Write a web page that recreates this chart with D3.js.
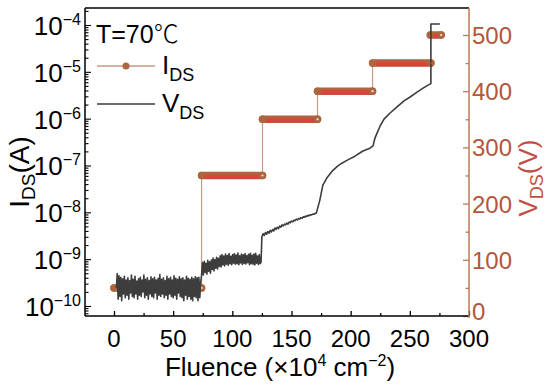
<!DOCTYPE html>
<html><head><meta charset="utf-8">
<script src="https://cdn.jsdelivr.net/npm/d3@7"></script>
<style>
body{margin:0;background:#fff}
svg{display:block;font-family:"Liberation Sans",Arial,sans-serif}
</style>
</head><body>
<svg id="c" width="550" height="389"></svg>
<script>
// ---------------- data ----------------
const xTicks = [0, 50, 100, 150, 200, 250, 300];
const xMinorTicks = [25, 75, 125, 175, 225, 275];
const leftTickExps = [-10, -9, -8, -7, -6, -5, -4];
const rightTicks = [0, 100, 200, 300, 400, 500];
const rightMinorTicks = [50, 150, 250, 350, 450];

// V_DS steps (red, right axis)
const stepStart = [0, 74, 125.5, 172, 218.5, 267.3];
const stepEnd   = [74, 125.5, 172, 218.5, 267.8, 276.5];
const stepVolt  = [50, 250, 350, 400, 450, 500];

// current trace (black, left axis), noisy region A: sampled every 0.75 from 2, units 1e-10 A
const noiseAStart = 2, noiseAStep = 0.75;
const noiseAValues = [2.4,4.9,1.4,4.4,1.6,4.1,1.3,3.8,1.8,4.3,
  1.5,3.6,1.7,4.0,1.4,3.5,1.9,4.6,1.6,3.7,
  1.5,4.3,1.8,3.4,1.4,3.8,1.7,4.1,1.6,3.6,
  2.0,4.6,1.5,3.7,1.7,4.0,1.4,3.5,1.8,4.2,
  1.6,3.8,1.5,4.1,1.9,3.6,1.4,3.9,1.7,4.7,
  1.6,3.7,1.8,4.0,1.5,3.5,1.7,4.3,1.4,3.8,
  1.8,4.1,1.6,3.6,1.5,4.4,1.7,3.9,1.4,3.7,
  1.9,4.2,1.6,3.8,1.5,4.0,1.3,3.6,1.7,4.3,
  1.4,3.9,1.6,3.7,1.4,4.1,1.3,3.8,1.6,4.2,
  1.5,4.0,1.3,4.1,1.5,3.2];
// noisy region B: sampled every 0.75 from 74, units 1e-10 A
const noiseBStart = 74, noiseBStep = 0.75;
const noiseBValues = [4.5,8.5,4.6,9.0,5.2,8.2,4.8,9.4,5.5,8.8,
  5.0,9.6,6.0,10.5,5.6,9.8,6.4,11.0,6.2,10.4,
  7.0,11.8,6.8,12.5,7.5,11.6,7.2,12.8,7.8,12.0,
  7.4,13.2,8.0,11.5,7.6,12.6,8.2,13.0,7.8,12.2,
  8.0,13.5,7.6,11.8,8.3,12.9,7.7,12.4,8.1,13.1,
  7.9,11.9,8.4,12.7,7.6,13.3,8.0,12.1,7.8,12.8,
  7.5,13.4,8.2,11.7,7.7,12.5,8.0,8.6];
// region C: sampled every 1 from 125, units 1e-9 A
const noiseCStart = 125, noiseCStep = 1;
const noiseCValues = [3.0,3.5,3.2,3.7,3.4,3.9,3.6,4.1,3.8,4.3,
  4.0,4.6,4.3,4.8,4.5,5.1,4.8,5.4,5.1,5.6,
  5.4,5.9,5.6,6.2,6.0,6.5,6.3,6.8,6.6,7.1,
  6.9,7.4,7.2,7.7,7.5,8.0,7.9,8.3,8.2,8.6,
  8.5,8.9,8.8,9.2,9.1,9.5,9.6];
// smooth tail: fluence and current (A)
const tailFluence = [173.9,176.5,179.8,185,189.2,192.6,197.6,203.6,210.4,216.3,218.9,
  220.6,222.3,224.8,228.2,233.3,239.2,245.1,250.2,256.1,261.2,265.4,267.8,267.8,275.4];
const tailCurrent = [1.8e-8,3.8e-8,5.4e-8,7.9e-8,9.8e-8,1.12e-7,1.32e-7,1.58e-7,2.04e-7,2.34e-7,2.63e-7,
  3.9e-7,4.9e-7,6.9e-7,9.8e-7,1.32e-6,1.78e-6,2.4e-6,2.9e-6,3.7e-6,4.5e-6,5.2e-6,5.6e-6,1.05e-4,1.05e-4];

// ---------------- chart ----------------
const svg = d3.select("#c");
const L = 85, R = 469, T = 8, B = 316;
const x = d3.scaleLinear().domain([-24.5, 300]).range([L, R]);
const yL = d3.scaleLog().domain([Math.pow(10, -10.214), Math.pow(10, -3.637)]).range([B, T]);
const yR = d3.scaleLinear().domain([0, 548]).range([B, T]);

const brown = "#ad653f", red = "#e0403a", axisBrown = "#b87a5a", labBrown = "#b4563a";

// build current series
const cur = [];
noiseAValues.forEach((v, i) => cur.push([noiseAStart + i * noiseAStep, v * 1e-10]));
noiseBValues.forEach((v, i) => cur.push([noiseBStart + i * noiseBStep, v * 1e-10]));
noiseCValues.forEach((v, i) => cur.push([noiseCStart + i * noiseCStep, v * 1e-9]));
tailFluence.forEach((f, i) => cur.push([f, tailCurrent[i]]));

// red steps: connectors
const g = svg.append("g");
for (let i = 1; i < stepVolt.length - 1; i++) {
  g.append("line").attr("x1", x(stepStart[i])).attr("x2", x(stepStart[i]))
    .attr("y1", yR(stepVolt[i - 1])).attr("y2", yR(stepVolt[i]))
    .attr("stroke", "#c99a82").attr("stroke-width", 1.2);
}
stepVolt.forEach((v, i) => {
  const x1 = x(stepStart[i]), x2 = x(stepEnd[i]), yy = yR(v);
  g.append("line").attr("x1", x1).attr("x2", x2).attr("y1", yy).attr("y2", yy)
    .attr("stroke", brown).attr("stroke-width", 7.5).attr("stroke-linecap", "round");
  g.append("line").attr("x1", x1 + 3).attr("x2", x2 - 3).attr("y1", yy + 1.2).attr("y2", yy + 1.2)
    .attr("stroke", red).attr("stroke-width", 4);
  g.append("circle").attr("cx", x1).attr("cy", yy).attr("r", 3.7).attr("fill", brown);
  g.append("circle").attr("cx", x2).attr("cy", yy).attr("r", 3.7).attr("fill", brown);
  g.append("circle").attr("cx", x2).attr("cy", yy).attr("r", 1.1).attr("fill", "#f4e6d8");
});

// black current line
svg.append("path").datum(cur)
  .attr("d", d3.line().x(d => x(d[0])).y(d => yL(d[1])))
  .attr("fill", "none").attr("stroke", "#3d3d3d").attr("stroke-width", 1.6)
  .attr("stroke-linejoin", "round");

// ---------------- axes ----------------
// bottom
const ax = svg.append("g").attr("transform", `translate(0,${B})`);
ax.call(d3.axisBottom(x).tickValues(xTicks).tickSize(-5).tickFormat(""));
ax.append("g").call(d3.axisBottom(x).tickValues(xMinorTicks).tickSize(-3).tickFormat(""));
ax.selectAll(".domain").remove();
ax.selectAll("line").attr("stroke", "#000").attr("stroke-width", 1.3);
xTicks.forEach(t => {
  svg.append("text").attr("x", x(t)).attr("y", 347).attr("text-anchor", "middle")
    .attr("font-size", 24).attr("fill", "#000").text(t);
});

// left (log)
const majors = leftTickExps.map(e => Math.pow(10, e));
const minors = yL.ticks().filter(v => !majors.some(m => Math.abs(m - v) / m < 1e-6));
const ay = svg.append("g").attr("transform", `translate(${L},0)`);
ay.call(d3.axisLeft(yL).tickValues(majors).tickSize(-6).tickFormat(""));
ay.append("g").call(d3.axisLeft(yL).tickValues(minors).tickSize(-3.5).tickFormat(""));
ay.selectAll(".domain").remove();
ay.selectAll("line").attr("stroke", "#000").attr("stroke-width", 1.1);
leftTickExps.forEach(e => {
  const t = svg.append("text").attr("x", 81).attr("y", yL(Math.pow(10, e)) + 10)
    .attr("text-anchor", "end").attr("font-size", 26).attr("fill", "#000");
  t.append("tspan").text("10");
  t.append("tspan").attr("dy", -10).attr("font-size", 16).text("\u2212" + Math.abs(e));
});

// right
const ar = svg.append("g").attr("transform", `translate(${R},0)`);
ar.call(d3.axisRight(yR).tickValues(rightTicks).tickSize(-6).tickFormat(""));
ar.append("g").call(d3.axisRight(yR).tickValues(rightMinorTicks).tickSize(-3.5).tickFormat(""));
ar.selectAll(".domain").remove();
ar.selectAll("line").attr("stroke", axisBrown).attr("stroke-width", 1.3);
rightTicks.forEach(t => {
  svg.append("text").attr("x", 472).attr("y", yR(t) + (t === 0 ? 4 : 9)).attr("font-size", 24)
    .attr("fill", labBrown).text(t);
});

// frame
svg.append("line").attr("x1", L).attr("x2", R).attr("y1", T).attr("y2", T).attr("stroke", "#000").attr("stroke-width", 1.5);
svg.append("line").attr("x1", L).attr("x2", L).attr("y1", T).attr("y2", B).attr("stroke", "#000").attr("stroke-width", 1.5);
svg.append("line").attr("x1", L).attr("x2", R).attr("y1", B).attr("y2", B).attr("stroke", "#000").attr("stroke-width", 1.5);
svg.append("line").attr("x1", R).attr("x2", R).attr("y1", T).attr("y2", B + 2).attr("stroke", axisBrown).attr("stroke-width", 1.5);

// axis titles
const xt = svg.append("text").attr("x", 280).attr("y", 376).attr("text-anchor", "middle")
  .attr("font-size", 26).attr("fill", "#000");
xt.append("tspan").text("Fluence (\u00d710");
xt.append("tspan").attr("dy", -10).attr("font-size", 16).text("4");
xt.append("tspan").attr("dy", 10).text(" cm");
xt.append("tspan").attr("dy", -10).attr("font-size", 16).text("\u22122");
xt.append("tspan").attr("dy", 10).text(")");

const lt = svg.append("text").attr("transform", "translate(29,172) rotate(-90)")
  .attr("text-anchor", "middle").attr("font-size", 28).attr("fill", "#000");
lt.append("tspan").text("I");
lt.append("tspan").attr("dy", 6).attr("font-size", 19).text("DS");
lt.append("tspan").attr("dy", -6).text("(A)");

const rt = svg.append("text").attr("transform", "translate(537,178) rotate(-90)")
  .attr("text-anchor", "middle").attr("font-size", 26).attr("fill", "#c24f45");
rt.append("tspan").text("V");
rt.append("tspan").attr("dy", 6).attr("font-size", 18).text("DS");
rt.append("tspan").attr("dy", -6).text("(V)");

// legend
const tt = svg.append("text").attr("x", 96).attr("y", 43).attr("font-size", 25).attr("fill", "#000");
tt.append("tspan").text("T=70");
tt.append("tspan").attr("font-family", "'Noto Sans CJK SC'").attr("font-weight", 300).text("\u2103");
svg.append("line").attr("x1", 97).attr("x2", 155).attr("y1", 66).attr("y2", 66).attr("stroke", "#c99a82").attr("stroke-width", 1.3);
svg.append("circle").attr("cx", 126).attr("cy", 66).attr("r", 3.5).attr("fill", brown);
const l1 = svg.append("text").attr("x", 162).attr("y", 74).attr("font-size", 26).attr("fill", "#000");
l1.append("tspan").text("I");
l1.append("tspan").attr("dy", 7).attr("font-size", 18).text("DS");
svg.append("line").attr("x1", 97).attr("x2", 155).attr("y1", 104).attr("y2", 104).attr("stroke", "#3d3d3d").attr("stroke-width", 1.5);
const l2 = svg.append("text").attr("x", 162).attr("y", 112).attr("font-size", 26).attr("fill", "#000");
l2.append("tspan").text("V");
l2.append("tspan").attr("dy", 7).attr("font-size", 18).text("DS");
</script>
</body></html>
